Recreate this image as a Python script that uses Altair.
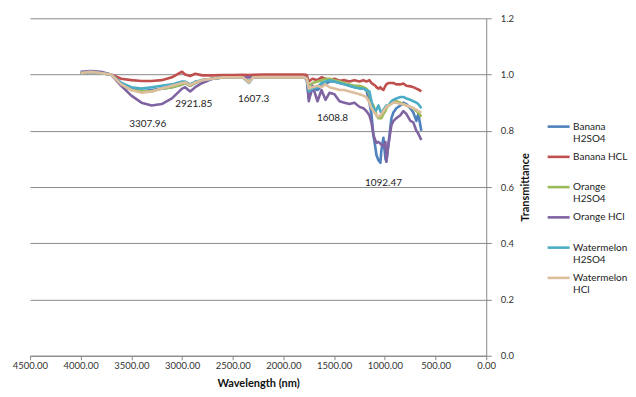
import altair as alt
import pandas as pd

series = ["Banana H2SO4", "Banana HCL", "Orange H2SO4", "Orange HCl",
          "Watermelon H2SO4", "Watermelon HCl"]
colors = ["#4F81BD", "#C0504D", "#9BBB59", "#8064A2", "#4BACC6", "#DDBE9C"]
widths = [2.6, 2.6, 2.6, 2.6, 2.6, 1.1]

wavelength = [4000, 3900, 3800, 3700, 3600, 3500, 3400, 3300, 3200, 3100, 3000, 2970,
              2920, 2870, 2800, 2700, 2600, 2500, 2400, 2340, 2300, 2200, 2000, 1800,
              1770, 1750, 1713, 1664, 1625, 1585, 1546, 1497, 1447, 1398, 1349, 1300,
              1250, 1211, 1182, 1152, 1132, 1113, 1093, 1083, 1063, 1044, 1034, 1014,
              994, 985, 965, 935, 916, 886, 847, 817, 788, 748, 719, 689, 670, 640]

banana_h2so4 = [1.005, 1.01, 1.005, 1.0, 0.97, 0.95, 0.94, 0.945, 0.95, 0.955, 0.965, 0.97,
                0.96, 0.97, 0.98, 0.985, 0.99, 0.99, 0.99, 0.975, 0.99, 0.99, 0.99, 0.99,
                0.985, 0.915, 0.95, 0.945, 0.96, 0.965, 0.975, 0.975, 0.97, 0.965, 0.96, 0.955,
                0.955, 0.95, 0.945, 0.90, 0.86, 0.785, 0.74, 0.714, 0.695, 0.686, 0.73, 0.775,
                0.70, 0.69, 0.75, 0.845, 0.865, 0.88, 0.89, 0.90, 0.895, 0.88, 0.865, 0.835, 0.86, 0.80]
banana_hcl = [1.005, 1.01, 1.005, 1.0, 0.985, 0.98, 0.977, 0.977, 0.98, 0.99, 1.01, 1.0,
              0.995, 1.003, 0.997, 0.997, 0.998, 0.998, 0.999, 0.998, 0.999, 1.0, 1.0, 1.0,
              0.998, 0.975, 0.985, 0.98, 0.99, 0.985, 0.98, 0.985, 0.978, 0.98, 0.975, 0.98,
              0.975, 0.98, 0.975, 0.98, 0.97, 0.965, 0.96, 0.955, 0.95, 0.955, 0.95, 0.945,
              0.96, 0.965, 0.97, 0.97, 0.97, 0.965, 0.965, 0.968, 0.96, 0.958, 0.955, 0.95, 0.947, 0.94]
orange_h2so4 = [1.005, 1.01, 1.005, 1.0, 0.965, 0.945, 0.94, 0.94, 0.95, 0.955, 0.965, 0.97,
                0.96, 0.97, 0.98, 0.985, 0.99, 0.99, 0.99, 0.975, 0.99, 0.99, 0.99, 0.99,
                0.985, 0.96, 0.97, 0.975, 0.98, 0.985, 0.985, 0.98, 0.975, 0.97, 0.965, 0.96,
                0.96, 0.955, 0.95, 0.93, 0.90, 0.89, 0.87, 0.855, 0.845, 0.845, 0.845, 0.86,
                0.87, 0.88, 0.89, 0.90, 0.905, 0.905, 0.90, 0.895, 0.89, 0.885, 0.88, 0.87, 0.865, 0.85]
orange_hcl = [1.01, 1.012, 1.01, 1.0, 0.96, 0.925, 0.90, 0.89, 0.895, 0.915, 0.95, 0.955,
              0.94, 0.955, 0.97, 0.985, 0.99, 0.99, 0.99, 0.99, 0.99, 0.99, 0.99, 0.99,
              0.985, 0.905, 0.96, 0.905, 0.945, 0.91, 0.935, 0.93, 0.905, 0.90, 0.895, 0.90,
              0.885, 0.88, 0.87, 0.855, 0.83, 0.785, 0.765, 0.757, 0.76, 0.755, 0.75, 0.745,
              0.76, 0.69, 0.75, 0.82, 0.835, 0.845, 0.855, 0.87, 0.86, 0.835, 0.83, 0.80, 0.79, 0.767]
watermelon_h2so4 = [1.005, 1.01, 1.005, 1.0, 0.97, 0.955, 0.95, 0.955, 0.96, 0.965, 0.975, 0.975,
                    0.965, 0.975, 0.98, 0.985, 0.99, 0.99, 0.99, 0.97, 0.99, 0.99, 0.99, 0.99,
                    0.985, 0.94, 0.95, 0.955, 0.97, 0.975, 0.98, 0.975, 0.97, 0.965, 0.96, 0.955,
                    0.95, 0.95, 0.945, 0.94, 0.905, 0.88, 0.87, 0.875, 0.89, 0.87, 0.863, 0.875,
                    0.885, 0.89, 0.89, 0.905, 0.91, 0.915, 0.92, 0.92, 0.915, 0.91, 0.905, 0.90, 0.895, 0.88]
watermelon_hcl = [1.005, 1.01, 1.005, 1.0, 0.965, 0.945, 0.935, 0.94, 0.95, 0.96, 0.97, 0.972,
                  0.962, 0.972, 0.98, 0.985, 0.99, 0.99, 0.99, 0.972, 0.99, 0.99, 0.99, 0.99,
                  0.985, 0.95, 0.955, 0.96, 0.955, 0.965, 0.955, 0.95, 0.945, 0.945, 0.94, 0.935,
                  0.93, 0.925, 0.92, 0.90, 0.88, 0.87, 0.86, 0.855, 0.85, 0.855, 0.86, 0.87,
                  0.88, 0.885, 0.89, 0.895, 0.90, 0.90, 0.895, 0.895, 0.89, 0.885, 0.88, 0.875, 0.87, 0.865]

ann_text = ["3307.96", "2921.85", "1607.3", "1608.8", "1092.47"]
ann_x = [3338, 2885, 2294, 1516, 1014]
ann_y = [0.824, 0.895, 0.913, 0.845, 0.615]

values = [banana_h2so4, banana_hcl, orange_h2so4, orange_hcl, watermelon_h2so4, watermelon_hcl]
rows = []
for name, vals in zip(series, values):
    for w, v in zip(wavelength, vals):
        rows.append({"series": name, "wl": w, "t": v})
df = pd.DataFrame(rows)
ann = pd.DataFrame({"label": ann_text, "wl": ann_x, "t": ann_y})

FONT = "Lato"
LABEL_EXPR = ("indexof(datum.label,'H2SO4')>=0 || indexof(datum.label,'Watermelon')>=0"
              " ? split(datum.label,' ') : [datum.label, '']")

x = alt.X("wl:Q", title="Wavelength (nm)",
          scale=alt.Scale(domain=[0, 4500], reverse=True, nice=False),
          axis=alt.Axis(values=list(range(0, 4501, 500)), format=".2f", grid=False,
                        labelOverlap=False, labelFlush=False, tickSize=4,
                        labelPadding=1, titlePadding=7))
y = alt.Y("t:Q", title="Transmittance",
          scale=alt.Scale(domain=[0, 1.2], nice=False),
          axis=alt.Axis(orient="right", values=[0, 0.2, 0.4, 0.6, 0.8, 1.0, 1.2],
                        format=".1f", tickSize=5, labelPadding=9, labelFlush=False,
                        titlePadding=6, titleAngle=270, titleBaseline="top"))

lines = alt.Chart(df).mark_line(strokeJoin="round").encode(
    x=x, y=y,
    color=alt.Color("series:N", title=None, sort=series,
                    scale=alt.Scale(domain=series, range=colors),
                    legend=alt.Legend(labelExpr=LABEL_EXPR)),
    strokeWidth=alt.StrokeWidth("series:N", title=None, sort=series,
                                scale=alt.Scale(domain=series, range=widths),
                                legend=alt.Legend(labelExpr=LABEL_EXPR)),
    order=alt.Order("wl:Q", sort="descending"),
)

labels = alt.Chart(ann).mark_text(font=FONT, fontSize=10, color="#222").encode(
    x="wl:Q", y="t:Q", text="label:N")

chart = alt.layer(lines, labels).properties(
    width=457, height=338,
    padding={"left": 4, "top": 5, "right": 0, "bottom": 0},
).configure_view(stroke=None).configure_axis(
    labelFont=FONT, titleFont=FONT, labelFontSize=9.5, titleFontSize=11,
    labelColor="#333", titleColor="#111", titleFontWeight="bold",
    domainColor="#888", tickColor="#888", gridColor="#8c8c8c",
).configure_legend(
    orient="none", legendX=517, legendY=96, padding=0,
    symbolType="stroke", symbolSize=484,
    labelFont=FONT, labelFontSize=10, labelColor="#222",
    labelBaseline="middle", rowPadding=0.3, labelOffset=2,
)

chart.save("out.html", embed_options={"renderer": "svg", "actions": False})
